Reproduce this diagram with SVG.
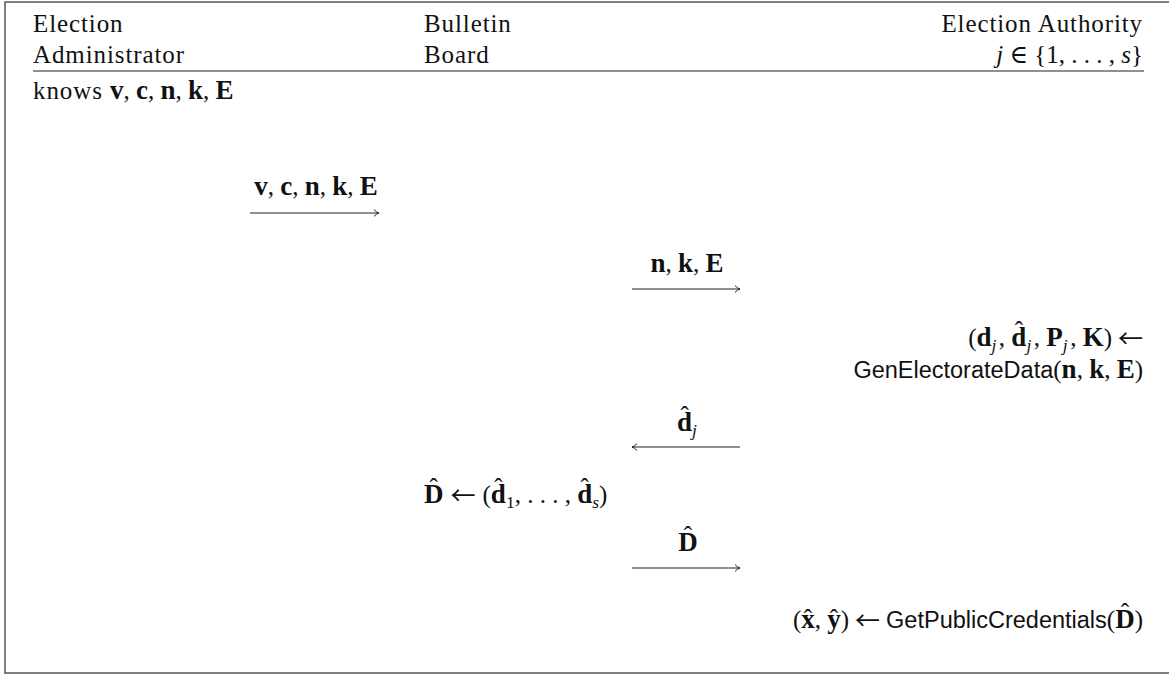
<svg xmlns="http://www.w3.org/2000/svg" width="1169" height="675" viewBox="0 0 1169 675">
<style>
.t{font-family:"Liberation Serif","DejaVu Serif",serif;font-size:25px;fill:#111}
.w{letter-spacing:0.9px}
.b{font-weight:bold;font-size:27px}
.i{font-style:italic}
.sub{font-size:17.5px;font-style:italic}
.subu{font-size:17.5px}
.hat{font-weight:normal;font-style:normal;font-size:25px}
.arr{font-family:"Noto Sans CJK SC","DejaVu Sans",sans-serif;font-size:25px;font-weight:normal}
.sf{font-family:"Liberation Sans","DejaVu Sans",sans-serif;font-size:23.5px}
.ln{stroke:#222;stroke-width:1.1;fill:none}
.frame{stroke:#555;stroke-width:1.5;fill:none}
</style>
<defs>
<marker id="ah" markerWidth="9" markerHeight="10" refX="7" refY="5" orient="auto-start-reverse" markerUnits="userSpaceOnUse">
<path d="M2,1.6 Q4.5,4.3 7,5 Q4.5,5.7 2,8.4" fill="none" stroke="#222" stroke-width="1"/>
</marker>
</defs>
<rect width="1169" height="675" fill="#fff"/>
<path class="frame" d="M1169,2 H5 V673 H1169"/>
<g id="header-line"><line class="ln" x1="33" y1="71" x2="1144" y2="71"/></g>
<g id="admin">
<text class="t w" x="33" y="32">Election</text>
<text class="t w" x="33" y="63">Administrator</text>
</g>
<g id="board">
<text class="t w" x="424" y="32">Bulletin</text>
<text class="t w" x="424" y="63">Board</text>
</g>
<g id="authority">
<text class="t w" x="1143" y="32" text-anchor="end">Election Authority</text>
<text class="t" x="1143" y="63" text-anchor="end"><tspan class="i">j</tspan> ∈ {1, . . . , <tspan class="i">s</tspan>}</text>
</g>
<g id="knows">
<text class="t" x="33" y="99"><tspan class="w">knows </tspan><tspan class="b">v</tspan>, <tspan class="b">c</tspan>, <tspan class="b">n</tspan>, <tspan class="b">k</tspan>, <tspan class="b">E</tspan></text>
</g>
<g id="gen-electorate">
<text class="t" x="1143" y="346" text-anchor="end">(<tspan class="b">d</tspan><tspan class="sub" dy="5">j</tspan><tspan dx="2.5" dy="-5">, </tspan><tspan class="b">d</tspan><tspan class="hat" dx="-11.67" dy="-7.5">ˆ</tspan><tspan class="sub" dx="3.34" dy="12.5">j</tspan><tspan dx="2.5" dy="-5">, </tspan><tspan class="b">P</tspan><tspan class="sub" dy="5">j</tspan><tspan dx="2.5" dy="-5">, </tspan><tspan class="b">K</tspan>)<tspan class="arr" dx="6" dy="2">←</tspan><tspan dy="-2"></tspan></text>
<text class="t" x="1143" y="378" text-anchor="end"><tspan class="sf">GenElectorateData</tspan>(<tspan class="b">n</tspan>, <tspan class="b">k</tspan>, <tspan class="b">E</tspan>)</text>
</g>
<g id="collect">
<text class="t" x="424" y="503"><tspan class="b">D</tspan><tspan class="hat" dx="-13.91" dy="-7.5">ˆ</tspan><tspan class="arr" dx="12.6" dy="9.5">←</tspan><tspan dx="7" dy="-2">(</tspan><tspan class="b">d</tspan><tspan class="hat" dx="-11.67" dy="-7.5">ˆ</tspan><tspan class="subu" dx="3.34" dy="12.5">1</tspan><tspan dy="-5">, . . . , </tspan><tspan class="b">d</tspan><tspan class="hat" dx="-11.67" dy="-7.5">ˆ</tspan><tspan class="sub" dx="3.34" dy="12.5">s</tspan><tspan dy="-5">)</tspan></text>
</g>
<g id="public-credentials">
<text class="t" x="1143" y="628" text-anchor="end">(<tspan class="b">x</tspan><tspan class="hat" dx="-10.92" dy="-1.5">ˆ</tspan><tspan dx="2.59" dy="1.5">, </tspan><tspan class="b">y</tspan><tspan class="hat" dx="-10.92" dy="-1.5">ˆ</tspan><tspan dx="2.59" dy="1.5">)</tspan><tspan class="arr" dx="6" dy="2">←</tspan><tspan class="sf" dx="6" dy="-2">GetPublicCredentials</tspan>(<tspan class="b">D</tspan><tspan class="hat" dx="-13.91" dy="-7.5">ˆ</tspan><tspan dx="5.58" dy="7.5">)</tspan></text>
</g>
<g id="connectors">
<line class="ln" x1="250" y1="213" x2="379" y2="213" marker-end="url(#ah)"/>
<line class="ln" x1="632" y1="289" x2="740" y2="289" marker-end="url(#ah)"/>
<line class="ln" x1="632" y1="447" x2="740" y2="447" marker-start="url(#ah)"/>
<line class="ln" x1="632" y1="568" x2="740" y2="568" marker-end="url(#ah)"/>
<text class="t" x="316" y="195" text-anchor="middle"><tspan class="b">v</tspan>, <tspan class="b">c</tspan>, <tspan class="b">n</tspan>, <tspan class="b">k</tspan>, <tspan class="b">E</tspan></text>
<text class="t" x="687" y="272" text-anchor="middle"><tspan class="b">n</tspan>, <tspan class="b">k</tspan>, <tspan class="b">E</tspan></text>
<text class="t" x="687" y="431" text-anchor="middle"><tspan class="b">d</tspan><tspan class="hat" dx="-11.67" dy="-7.5">ˆ</tspan><tspan class="sub" dx="3.34" dy="12.5">j</tspan></text>
<text class="t" x="688" y="551" text-anchor="middle"><tspan class="b">D</tspan><tspan class="hat" dx="-13.91" dy="-7.5">ˆ</tspan><tspan dx="5.58" dy="7.5"></tspan></text>
</g>
</svg>
